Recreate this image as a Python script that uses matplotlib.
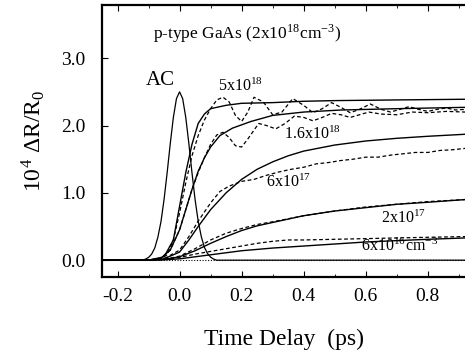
import matplotlib
matplotlib.use("Agg")
import matplotlib.pyplot as plt
from matplotlib.ticker import MultipleLocator

plt.rcParams['font.family'] = ['Liberation Serif', 'DejaVu Serif']
plt.rcParams['mathtext.fontset'] = 'stix'

# autocorrelation trace
ac_t = [-0.25, -0.12, -0.11, -0.1, -0.09, -0.08, -0.07, -0.06, -0.05, -0.04, -0.03, -0.02, -0.01, 0.0,
        0.01, 0.02, 0.03, 0.04, 0.05, 0.06, 0.07, 0.08, 0.09, 0.1, 0.11, 0.12, 0.92]
ac_y = [0.0, 0.0, 0.015, 0.04, 0.09, 0.18, 0.34, 0.57, 0.9, 1.3, 1.73, 2.12, 2.4, 2.5,
        2.4, 2.12, 1.73, 1.3, 0.9, 0.58, 0.35, 0.19, 0.1, 0.045, 0.015, 0.0, 0.0]

# 5x10^18 : fit (solid) and data (dashed)
fit1_t = [-0.25, -0.1, -0.05, -0.02, 0.0, 0.02, 0.04, 0.06, 0.08, 0.1, 0.15, 0.2, 0.3, 0.4, 0.5, 0.7, 0.92]
fit1_y = [0.0, 0.0, 0.05, 0.3, 0.8, 1.3, 1.72, 2.03, 2.17, 2.25, 2.3, 2.33, 2.34, 2.36, 2.37, 2.38, 2.39]
dat1_t = [-0.25, -0.1, -0.06, -0.04, -0.02, 0.0, 0.02, 0.04, 0.06, 0.08, 0.1, 0.12, 0.14, 0.16,
          0.18, 0.2, 0.22, 0.24, 0.27, 0.3, 0.33, 0.365, 0.4, 0.43, 0.46, 0.49, 0.52, 0.55, 0.58,
          0.615, 0.65, 0.68, 0.71, 0.74, 0.77, 0.8, 0.83, 0.86, 0.89, 0.92]
dat1_y = [0.0, 0.0, 0.02, 0.08, 0.3, 0.7, 1.15, 1.55, 1.85, 2.08, 2.25, 2.38, 2.42, 2.35,
          2.15, 2.06, 2.2, 2.42, 2.35, 2.16, 2.2, 2.4, 2.3, 2.19, 2.25, 2.34, 2.27, 2.19, 2.24,
          2.32, 2.24, 2.2, 2.24, 2.28, 2.24, 2.21, 2.24, 2.26, 2.23, 2.24]

# 1.6x10^18
fit2_t = [-0.25, -0.1, -0.06, -0.03, 0.0, 0.02, 0.04, 0.06, 0.08, 0.1, 0.13, 0.17, 0.23, 0.3, 0.4, 0.52, 0.7, 0.92]
fit2_y = [0.0, 0.0, 0.03, 0.15, 0.45, 0.75, 1.05, 1.32, 1.52, 1.68, 1.85, 1.96, 2.06, 2.15, 2.2, 2.23, 2.25, 2.27]
dat2_t = [-0.25, -0.1, -0.06, -0.03, 0.0, 0.02, 0.04, 0.06, 0.08, 0.1, 0.12, 0.14, 0.16, 0.18,
          0.2, 0.22, 0.255, 0.28, 0.31, 0.34, 0.37, 0.4, 0.43, 0.46, 0.49, 0.52, 0.55, 0.58,
          0.61, 0.65, 0.7, 0.75, 0.8, 0.86, 0.92]
dat2_y = [0.0, 0.0, 0.03, 0.15, 0.45, 0.75, 1.05, 1.3, 1.52, 1.72, 1.86, 1.9, 1.82, 1.7,
          1.68, 1.8, 2.03, 2.0, 1.95, 2.03, 2.14, 2.12, 2.07, 2.12, 2.18, 2.16, 2.12, 2.16,
          2.2, 2.17, 2.16, 2.2, 2.19, 2.21, 2.2]

# 6x10^17
fit3_t = [-0.25, -0.1, -0.05, 0.0, 0.03, 0.06, 0.1, 0.15, 0.2, 0.25, 0.3, 0.35, 0.4, 0.5, 0.6, 0.7, 0.8, 0.92]
fit3_y = [0.0, 0.0, 0.02, 0.12, 0.3, 0.5, 0.75, 1.0, 1.2, 1.35, 1.46, 1.55, 1.62, 1.71, 1.77, 1.81, 1.84, 1.87]
dat3_t = [-0.25, -0.1, -0.05, 0.0, 0.03, 0.06, 0.1, 0.13, 0.16, 0.2, 0.24, 0.28, 0.32, 0.36,
          0.4, 0.44, 0.48, 0.52, 0.56, 0.6, 0.64, 0.68, 0.72, 0.76, 0.8, 0.84, 0.88, 0.92]
dat3_y = [0.0, 0.0, 0.02, 0.15, 0.35, 0.58, 0.85, 1.02, 1.1, 1.17, 1.2, 1.26, 1.31, 1.35,
          1.38, 1.43, 1.45, 1.48, 1.5, 1.53, 1.53, 1.56, 1.58, 1.6, 1.6, 1.63, 1.64, 1.66]

# 2x10^17
fit4_t = [-0.25, -0.1, -0.05, 0.0, 0.05, 0.1, 0.15, 0.2, 0.25, 0.3, 0.4, 0.5, 0.6, 0.7, 0.8, 0.92]
fit4_y = [0.0, 0.0, 0.01, 0.05, 0.14, 0.25, 0.35, 0.44, 0.51, 0.56, 0.66, 0.73, 0.78, 0.83, 0.86, 0.9]
dat4_t = [-0.25, -0.1, -0.05, 0.0, 0.05, 0.1, 0.15, 0.2, 0.25, 0.3, 0.4, 0.5, 0.6, 0.7, 0.8, 0.92]
dat4_y = [0.0, 0.0, 0.01, 0.06, 0.17, 0.3, 0.4, 0.47, 0.53, 0.57, 0.66, 0.73, 0.79, 0.83, 0.87, 0.9]

# 6x10^16
fit5_t = [-0.25, -0.1, -0.05, 0.0, 0.05, 0.1, 0.15, 0.2, 0.3, 0.4, 0.5, 0.6, 0.7, 0.8, 0.92]
fit5_y = [0.0, 0.0, 0.005, 0.02, 0.05, 0.08, 0.11, 0.14, 0.18, 0.21, 0.24, 0.27, 0.29, 0.31, 0.33]
dat5_t = [-0.25, -0.1, -0.05, 0.0, 0.05, 0.1, 0.15, 0.2, 0.25, 0.3, 0.35, 0.4, 0.5, 0.6, 0.7, 0.8, 0.92]
dat5_y = [0.0, 0.0, 0.01, 0.04, 0.09, 0.13, 0.17, 0.21, 0.25, 0.28, 0.3, 0.3, 0.31, 0.32, 0.33, 0.34, 0.35]

curve_labels = ["5x10$^{\\mathregular{18}}$", "1.6x10$^{\\mathregular{18}}$", "6x10$^{\\mathregular{17}}$",
                "2x10$^{\\mathregular{17}}$", "6x10$^{\\mathregular{16}}$cm$^{\\mathregular{-3}}$"]
label_pos = [(0.123, 2.52), (0.335, 1.8), (0.277, 1.08), (0.65, 0.55), (0.584, 0.13)]

fig = plt.figure(figsize=(4.65, 3.54), dpi=100)
ax = fig.add_axes([102 / 465, 1 - 277 / 354, 1 - 102 / 465, (277 - 5) / 354])

ax.axhline(0, color="black", lw=0.8, ls=(0, (1, 1.5)))
ax.plot(ac_t, ac_y, color="black", lw=0.9)
fits = [(fit1_t, fit1_y), (fit2_t, fit2_y), (fit3_t, fit3_y), (fit4_t, fit4_y), (fit5_t, fit5_y)]
data = [(dat1_t, dat1_y), (dat2_t, dat2_y), (dat3_t, dat3_y), (dat4_t, dat4_y), (dat5_t, dat5_y)]
for t, y in fits:
    ax.plot(t, y, color="black", lw=1.0)
for t, y in data:
    ax.plot(t, y, color="black", lw=0.9, ls=(0, (3, 2)))

for txt, (x, y) in zip(curve_labels, label_pos):
    ax.text(x, y, txt, fontsize=11.5, va="baseline")
ax.text(-0.11, 2.6, "AC", fontsize=15, va="baseline")
ax.text(-0.087, 3.29, "p-type GaAs (2x10$^{\\mathregular{18}}$cm$^{\\mathregular{-3}}$)",
        fontsize=12.5, va="baseline")

ax.set_xlim(-0.25, 0.92)
ax.set_ylim(-0.25, 3.79)
ax.xaxis.set_minor_locator(MultipleLocator(0.1))
ax.set_xticks([-0.2, 0.0, 0.2, 0.4, 0.6, 0.8])
ax.set_xticklabels(["-0.2", "0.0", "0.2", "0.4", "0.6", "0.8"])
ax.set_yticks([0, 1, 2, 3])
ax.set_yticklabels(["0.0", "1.0", "2.0", "3.0"])
ax.tick_params(which="both", direction="in", top=True, labelsize=14)
ax.tick_params(axis="x", which="major", length=4, pad=8)
ax.tick_params(axis="y", which="major", length=4, pad=12)
ax.tick_params(which="minor", length=2)

for s in ["left", "bottom", "top"]:
    ax.spines[s].set_linewidth(1.6)
ax.spines["right"].set_visible(False)

ax.set_xlabel("Time Delay  (ps)", fontsize=17, labelpad=17)
ax.set_ylabel("10$^{\\mathregular{4}}$ \u0394R/R$_{\\mathregular{0}}$", fontsize=17, labelpad=10)

fig.savefig("out.png", dpi=100)
